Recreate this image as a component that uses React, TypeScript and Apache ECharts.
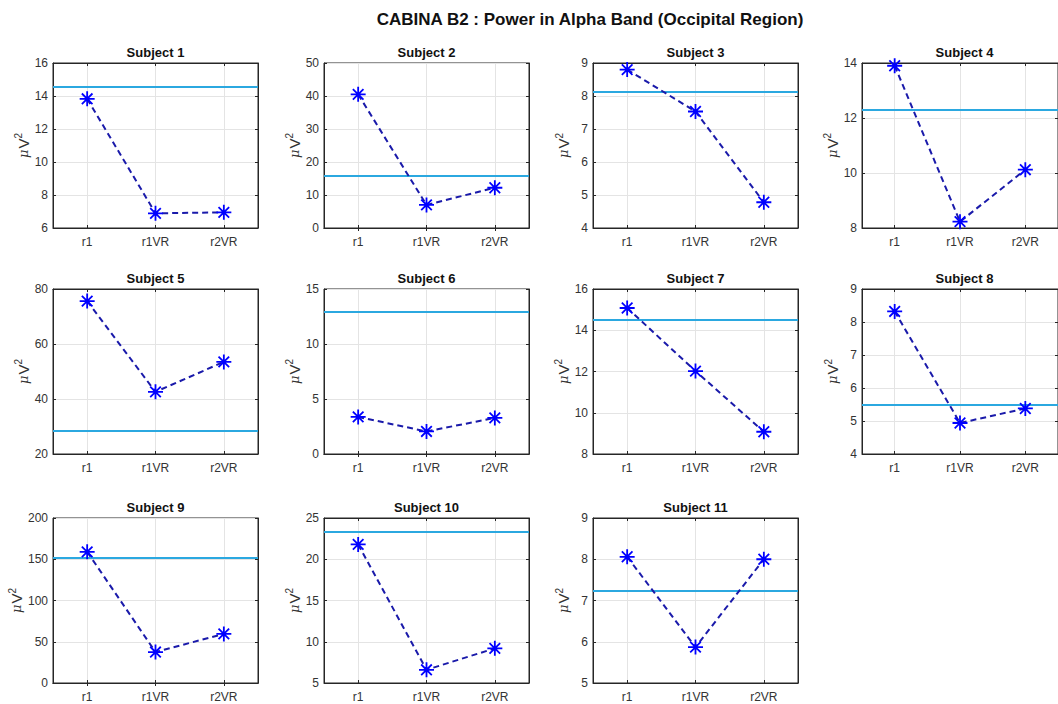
import React, { useEffect, useRef } from "react";
import * as echarts from "echarts";

const categories = ["r1", "r1VR", "r2VR"];
const subjectNames = [
  "Subject 1", "Subject 2", "Subject 3", "Subject 4", "Subject 5", "Subject 6",
  "Subject 7", "Subject 8", "Subject 9", "Subject 10", "Subject 11",
];
const subject1 = [13.83, 6.89, 6.95];
const subject2 = [40.5, 7.0, 12.2];
const subject3 = [8.8, 7.53, 4.78];
const subject4 = [13.9, 8.23, 10.12];
const subject5 = [75.6, 42.6, 53.5];
const subject6 = [3.37, 2.05, 3.28];
const subject7 = [15.08, 12.02, 9.08];
const subject8 = [8.32, 4.94, 5.38];
const subject9 = [159, 37.5, 59.5];
const subject10 = [21.8, 6.6, 9.2];
const subject11 = [8.06, 5.87, 8.0];
const allSubjects = [subject1, subject2, subject3, subject4, subject5, subject6, subject7, subject8, subject9, subject10, subject11];
const referenceLevels = [14.56, 15.9, 8.12, 12.29, 28.5, 12.9, 14.5, 5.5, 152, 23.3, 7.23];
const yMins = [6, 0, 4, 8, 20, 0, 8, 4, 0, 5, 5];
const yMaxs = [16, 50, 9, 14, 80, 15, 16, 9, 200, 25, 9];
const ySteps = [2, 10, 1, 2, 20, 5, 2, 1, 50, 5, 1];
const mainTitle = "CABINA B2 : Power in Alpha Band (Occipital Region)";
const yAxisName = "{m|μ}{v|V}{s|2}";

const colLefts = [53, 324, 593, 862];
const rowTops = [63, 289, 518];
const plotW = 205;
const plotH = 165;

const ASTERISK = "path://M10 0 L10 20 M0 10 L20 10 M2.93 2.93 L17.07 17.07 M2.93 17.07 L17.07 2.93";

export default function App() {
  const ref = useRef<HTMLDivElement>(null);
  useEffect(() => {
    if (!ref.current) return;
    const chart = echarts.init(ref.current, undefined, { renderer: "svg" });
    const grids: any[] = [];
    const xAxes: any[] = [];
    const yAxes: any[] = [];
    const series: any[] = [];
    const graphics: any[] = [
      {
        type: "text",
        x: 590,
        y: 19,
        style: {
          text: mainTitle,
          textAlign: "center",
          textVerticalAlign: "middle",
          font: "bold 17px 'Liberation Sans', Arial, sans-serif",
          fill: "#111",
        },
      },
    ];
    const axisColor = "#262626";
    const textColor = "#333";
    allSubjects.forEach((vals, i) => {
      const col = i % 4;
      const row = Math.floor(i / 4);
      const left = colLefts[col];
      const top = rowTops[row];
      grids.push({
        left,
        top,
        width: plotW,
        height: plotH,
        show: true,
        borderColor: axisColor,
        borderWidth: 1,
        backgroundColor: "#fff",
      });
      graphics.push({
        type: "text",
        x: left + plotW / 2,
        y: top - 11,
        style: {
          text: subjectNames[i],
          textAlign: "center",
          textVerticalAlign: "middle",
          font: "bold 13px 'Liberation Sans', Arial, sans-serif",
          fill: "#111",
        },
      });
      xAxes.push({
        gridIndex: i,
        type: "category",
        data: categories,
        boundaryGap: true,
        axisLine: { show: true, lineStyle: { color: axisColor, width: 1 } },
        axisTick: { show: true, inside: true, length: 3, alignWithLabel: true, lineStyle: { color: axisColor } },
        axisLabel: { color: textColor, fontSize: 12, fontFamily: "'Liberation Sans', Arial, sans-serif", margin: 8 },
        splitLine: { show: true, alignWithLabel: true, lineStyle: { color: "#e4e4e4", width: 1 } },
      });
      xAxes.push({
        gridIndex: i,
        type: "category",
        data: categories,
        position: "top",
        boundaryGap: true,
        axisLine: { show: true, lineStyle: { color: axisColor, width: 1 } },
        axisTick: { show: true, inside: true, length: 3, alignWithLabel: true, lineStyle: { color: axisColor } },
        axisLabel: { show: false },
        splitLine: { show: false },
      });
      yAxes.push({
        gridIndex: i,
        type: "value",
        min: yMins[i],
        max: yMaxs[i],
        interval: ySteps[i],
        name: yAxisName,
        nameLocation: "middle",
        nameRotate: 90,
        nameGap: 20,
        nameTextStyle: {
          color: textColor,
          fontSize: 15,
          fontFamily: "'Liberation Sans', Arial, sans-serif",
          rich: {
            m: { fontStyle: "italic", fontFamily: "'DejaVu Serif', serif", fontSize: 13, color: textColor, padding: [0, 1, 0, 0] },
            v: { fontSize: 15, fontFamily: "'Liberation Sans', Arial, sans-serif", color: textColor },
            s: { fontSize: 10, fontFamily: "'Liberation Sans', Arial, sans-serif", color: textColor, padding: [0, 0, 9, 0] },
          },
        },
        axisLine: { show: true, lineStyle: { color: axisColor, width: 1 } },
        axisTick: { show: true, inside: true, length: 3, lineStyle: { color: axisColor } },
        axisLabel: { color: textColor, fontSize: 12, fontFamily: "'Liberation Sans', Arial, sans-serif", margin: 5 },
        splitLine: { show: true, lineStyle: { color: "#e4e4e4", width: 1 } },
      });
      yAxes.push({
        gridIndex: i,
        type: "value",
        position: "right",
        min: yMins[i],
        max: yMaxs[i],
        interval: ySteps[i],
        axisLine: { show: true, lineStyle: { color: axisColor, width: 1 } },
        axisTick: { show: true, inside: true, length: 3, lineStyle: { color: axisColor } },
        axisLabel: { show: false },
        splitLine: { show: false },
      });
      series.push({
        type: "line",
        xAxisIndex: i * 2,
        yAxisIndex: i * 2,
        data: vals,
        z: 3,
        symbol: ASTERISK,
        symbolSize: 15,
        itemStyle: { color: "#0000ff", borderColor: "#0000ff", borderWidth: 1.8 },
        lineStyle: { color: "#1a1aaa", width: 2, type: [6, 4] },
        markLine: {
          silent: true,
          symbol: "none",
          z: 2,
          label: { show: false },
          lineStyle: { color: "#2ba8e0", width: 2, type: "solid" },
          data: [{ yAxis: referenceLevels[i] }],
        },
      });
    });
    chart.setOption({
      animation: false,
      backgroundColor: "#fff",
      grid: grids,
      xAxis: xAxes,
      yAxis: yAxes,
      series,
      graphic: graphics,
    });
    return () => chart.dispose();
  }, []);
  return (
    <div
      ref={ref}
      style={{ position: "fixed", left: 0, top: 0, width: 1058, height: 704, background: "#fff" }}
    />
  );
}
